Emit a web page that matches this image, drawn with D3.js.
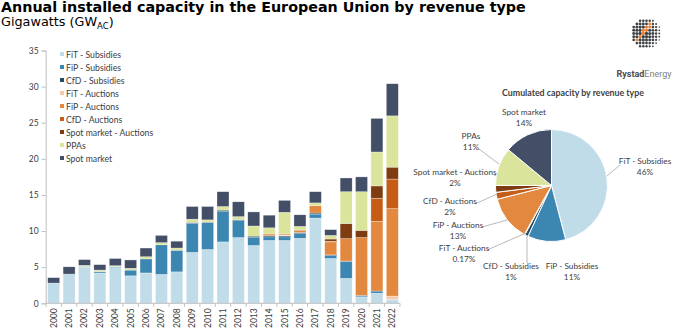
<!DOCTYPE html>
<html>
<head>
<meta charset="utf-8">
<script src="https://cdnjs.cloudflare.com/ajax/libs/d3/7.8.5/d3.min.js"></script>
<style>
  body { margin: 0; background: #fff; }
  svg { display: block; }
  .title { font-family: "DejaVu Sans", Verdana, sans-serif; }
  .lbl { font-family: Lato, "Open Sans", sans-serif; fill: #404040; }
</style>
</head>
<body>
<div id="chart"></div>
<script>
// ===== Data =====
let years = ["2000","2001","2002","2003","2004","2005","2006","2007","2008","2009","2010","2011",
             "2012","2013","2014","2015","2016","2017","2018","2019","2020","2021","2022"];

let seriesNames = ["FiT - Subsidies","FiP - Subsidies","CfD - Subsidies","FiT - Auctions","FiP - Auctions",
                   "CfD - Auctions","Spot market - Auctions","PPAs","Spot market"];

let fitSubsidies = [2.8,4.0,5.0,4.2,4.95,3.8,4.2,4.0,4.35,7.05,7.45,8.5,9.1,8.0,8.7,8.7,9.0,11.8,6.2,3.45,0.85,1.4,0.55];
let fipSubsidies = [0,0.05,0.1,0.2,0.1,0.8,1.95,4.1,3.0,4.0,3.7,4.2,2.35,1.1,0.5,0.5,0.65,0.55,0.4,2.3,0.15,0.3,0];
let cfdSubsidies = [0,0,0,0,0,0,0,0,0,0.15,0.1,0.2,0.15,0.2,0.15,0.15,0.15,0.15,0.1,0.1,0.1,0,0];
let fitAuctions  = [0,0,0,0,0,0,0,0,0,0,0,0,0,0,0,0.1,0,0,0,0,0,0,0.45];
let fipAuctions  = [0,0,0,0,0,0,0,0,0,0,0,0,0,0,0.25,0.15,0.3,1.0,1.8,3.1,8.0,9.65,12.1];
let cfdAuctions  = [0,0,0,0,0,0,0,0,0,0,0,0,0,0,0,0,0,0,0.1,0,0,3.2,4.1];
let spotAuctions = [0,0,0,0,0,0,0,0,0,0,0,0,0,0,0,0,0.05,0,0.3,2.1,1.0,1.7,1.65];
let ppas         = [0,0,0.15,0.2,0.15,0.25,0.3,0.3,0.3,0.45,0.3,0.5,0.4,1.4,0.85,3.0,0.5,0.4,0.5,4.4,5.35,4.7,7.1];
let spotMarket   = [0.75,1.0,0.8,0.75,1.0,1.15,1.2,1.0,0.95,1.75,1.85,2.05,2.05,1.95,1.75,1.65,1.6,1.55,0.8,1.9,2.05,4.65,4.45];

let yTicks = [0,5,10,15,20,25,30,35];

// cumulated shares (%) for the pie
let pieShares = [46,11,1,0.17,13,2,2,11,14];
let pieLabels = ["46%","11%","1%","0.17%","13%","2%","2%","11%","14%"];

let colors = ["#c1dce9","#3b87b1","#1f4d6b","#f6c9aa","#e3893f","#c55d17","#7f3c10","#dbe49b","#434f67"];

// ===== Layout =====
let W = 680, H = 329;

let svg = d3.select("#chart").append("svg")
    .attr("width", W)
    .attr("height", H);

svg.append("text").attr("class", "title")
    .attr("x", 1).attr("y", 12)
    .style("font-size", "14.3px").style("font-weight", "bold").attr("fill", "#000")
    .text("Annual installed capacity in the European Union by revenue type");

let sub = svg.append("text").attr("class", "title")
    .attr("x", 1).attr("y", 26)
    .style("font-size", "12.8px").attr("fill", "#000");
sub.append("tspan").text("Gigawatts (GW");
sub.append("tspan").attr("dy", 3).style("font-size", "8.5px").text("AC");
sub.append("tspan").attr("dy", -3).text(")");

// ===== Stacked bars =====
let x = d3.scaleBand().domain(years).range([46, 400]).paddingInner(0.22).paddingOuter(0.11),
    y = d3.scaleLinear().domain([0, 35]).range([303.3, 50.5]);

let table = years.map((yr, i) => ({
  year: yr,
  s0: fitSubsidies[i], s1: fipSubsidies[i], s2: cfdSubsidies[i], s3: fitAuctions[i], s4: fipAuctions[i],
  s5: cfdAuctions[i], s6: spotAuctions[i], s7: ppas[i], s8: spotMarket[i]
}));
let keys = d3.range(9).map(i => "s" + i);
let stacked = d3.stack().keys(keys)(table);

let gBars = svg.append("g");
gBars.selectAll("g.layer")
  .data(stacked)
  .enter().append("g")
    .attr("class", "layer")
    .attr("fill", (d, i) => colors[i])
  .selectAll("rect")
  .data(d => d.filter(e => e[1] - e[0] > 0))
  .enter().append("rect")
    .attr("x", d => x(d.data.year))
    .attr("width", x.bandwidth())
    .attr("y", d => y(d[1]))
    .attr("height", d => y(d[0]) - y(d[1]))
    .attr("stroke", "#ffffff")
    .attr("stroke-opacity", 0.6)
    .attr("stroke-width", 0.5);

// y axis
let yAxis = d3.axisLeft(y).tickValues(yTicks).tickSize(4).tickPadding(3);
let gy = svg.append("g").attr("transform", "translate(45.7,0)").call(yAxis);
gy.select(".domain").attr("stroke", "#bfbfbf");
gy.selectAll(".tick line").attr("stroke", "#bfbfbf");
gy.selectAll("text").attr("class", "lbl").style("font-size", "8.5px").attr("fill", "#404040");

// x axis, ticks between bands
let gx = svg.append("g").attr("transform", "translate(0,303.3)");
gx.append("line").attr("x1", 45.7).attr("x2", 400).attr("stroke", "#bfbfbf");
let step = x.step();
gx.selectAll("line.tk")
  .data(years.concat(["end"]))
  .enter().append("line")
    .attr("class", "tk")
    .attr("x1", (d, i) => 46 + i * step).attr("x2", (d, i) => 46 + i * step)
    .attr("y1", 0).attr("y2", 3.5)
    .attr("stroke", "#bfbfbf");
gx.selectAll("text")
  .data(years)
  .enter().append("text")
    .attr("class", "lbl")
    .attr("transform", d => "translate(" + (x(d) + x.bandwidth() / 2 + 3) + ",5) rotate(-90)")
    .attr("text-anchor", "end")
    .style("font-size", "8.5px")
    .text(d => d);

// legend
let legend = svg.append("g").attr("transform", "translate(60,55)");
seriesNames.forEach((name, i) => {
  let row = legend.append("g").attr("transform", "translate(0," + (i * 13) + ")");
  row.append("rect").attr("x", 0).attr("y", -3).attr("width", 4).attr("height", 4).attr("fill", colors[i]);
  row.append("text").attr("class", "lbl").attr("x", 6).attr("y", 0).attr("dy", "0.33em")
    .style("font-size", "8.7px").text(name);
});

// ===== Pie =====
svg.append("text").attr("class", "lbl")
    .attr("x", 573).attr("y", 95.5)
    .attr("text-anchor", "middle")
    .style("font-size", "8.8px").style("font-weight", "bold").attr("fill", "#000")
    .text("Cumulated capacity by revenue type");

let cx = 551.5, cy = 185.5, R = 56;
let pie = d3.pie().sort(null).value(d => d);
let arcs = pie(pieShares);
let arc = d3.arc().innerRadius(0).outerRadius(R);

let gPie = svg.append("g").attr("transform", "translate(" + cx + "," + cy + ")");
gPie.selectAll("path")
  .data(arcs)
  .enter().append("path")
    .attr("d", arc)
    .attr("fill", (d, i) => colors[i])
    .attr("stroke", "#fff")
    .attr("stroke-width", 1);

// label placement (absolute) and leader endpoints
let labelPos = [
  {x: 645, y: 164, line: [[607, 176], [620, 165]]},
  {x: 572, y: 269, line: null},
  {x: 511, y: 269, line: [[527, 263], [527, 236]]},
  {x: 464, y: 251, line: [[487, 250], [526, 233]]},
  {x: 458, y: 228, line: [[482, 227], [507, 220]]},
  {x: 450, y: 204, line: [[475, 204], [497, 194]]},
  {x: 455, y: 175, line: [[494, 175], [496, 176]]},
  {x: 471, y: 139, line: [[479, 149], [499, 164]]},
  {x: 524, y: 115, line: null}
];

let gLab = svg.append("g");
labelPos.forEach((p, i) => {
  if (p.line) {
    gLab.append("path")
      .attr("d", d3.line()(p.line))
      .attr("stroke", "#a6a6a6").attr("stroke-width", 0.8).attr("fill", "none");
  }
  let t = gLab.append("text").attr("class", "lbl")
    .attr("x", p.x).attr("y", p.y)
    .attr("text-anchor", "middle")
    .style("font-size", "8.3px");
  t.append("tspan").attr("x", p.x).text(seriesNames[i]);
  t.append("tspan").attr("x", p.x).attr("dy", 10.5).text(pieLabels[i]);
});

// ===== Logo =====
let logo = svg.append("g").attr("transform", "translate(646,33)");
let LR = 15.5, sp = 3.2;
let dots = [];
for (let gx2 = -LR; gx2 <= LR; gx2 += sp) {
  for (let gy2 = -LR; gy2 <= LR; gy2 += sp) {
    let d = Math.hypot(gx2, gy2);
    if (d < LR - 0.3) dots.push([gx2, gy2, d]);
  }
}
logo.selectAll("circle")
  .data(dots)
  .enter().append("circle")
    .attr("cx", d => d[0]).attr("cy", d => d[1])
    .attr("r", d => {
      // larger dots toward the lit centre-left of the sphere
      let sh = Math.sqrt(Math.max(0, 1 - (Math.hypot(d[0] + 3, d[1]) / (LR + 3)) ** 2));
      return 0.3 + 1.35 * sh;
    })
    .attr("fill", d => {
      let band = Math.abs(d[0] * 0.78 + d[1] * 0.63 + 2.4);
      return band < 1.8 && d[1] > -12 && d[1] < 9 ? "#ee7d2b" : "#3f4246";
    });

let brand = svg.append("text")
    .attr("x", 644).attr("y", 77)
    .attr("text-anchor", "middle")
    .style("font-family", "Roboto, 'Liberation Sans', sans-serif")
    .style("font-size", "9px");
brand.append("tspan").attr("fill", "#4d4d4d").style("font-weight", "bold").text("Rystad");
brand.append("tspan").attr("fill", "#7f7f7f").text("Energy");
</script>
</body>
</html>
